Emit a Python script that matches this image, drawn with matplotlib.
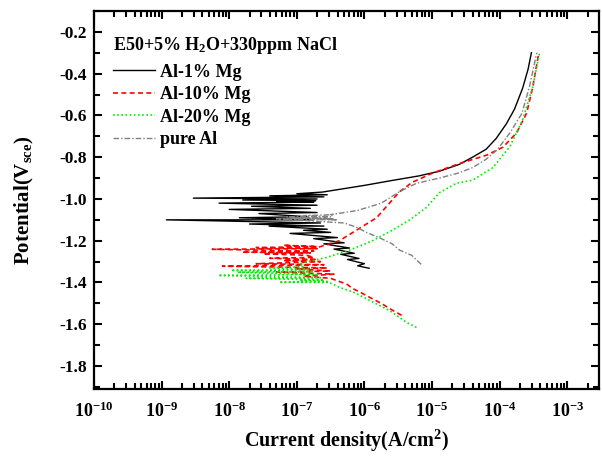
import numpy as np
import matplotlib
matplotlib.use("Agg")
import matplotlib.pyplot as plt
from matplotlib.ticker import FixedLocator, FixedFormatter, LogLocator, NullFormatter, MultipleLocator

plt.rcParams['font.family'] = ['Liberation Serif', 'DejaVu Serif']
plt.rcParams['font.weight'] = 'bold'
plt.rcParams['mathtext.fontset'] = 'custom'
plt.rcParams['mathtext.rm'] = 'Liberation Serif:bold'
plt.rcParams['mathtext.bf'] = 'Liberation Serif:bold'
plt.rcParams['mathtext.it'] = 'Liberation Serif:bold'

# log10 of current density (A/cm2) and potential (V vs SCE)
al1_logi = [-5.93, -6.10, -6.00, -6.25, -6.08, -6.35, -6.15, -6.45, -6.22, -6.60, -6.30,
            -6.75, -6.40, -7.10, -6.50, -6.90, -6.55, -7.41, -6.60, -7.70, -6.65, -8.93,
            -6.75, -7.85, -6.85, -7.56, -6.70, -8.00, -6.80, -7.67, -6.70, -8.15, -6.75,
            -7.30, -6.72, -7.80, -6.70, -8.53, -6.60, -7.40, -6.55, -7.00, -6.62, -6.00,
            -5.60, -5.20, -4.90, -4.60, -4.40, -4.20, -4.05, -3.90, -3.78, -3.66, -3.58,
            -3.53]
al1_E = [-1.332, -1.320, -1.310, -1.290, -1.285, -1.265, -1.260, -1.240, -1.235, -1.215, -1.210,
         -1.190, -1.185, -1.165, -1.160, -1.150, -1.145, -1.130, -1.130, -1.120, -1.115, -1.100,
         -1.100, -1.090, -1.085, -1.070, -1.065, -1.050, -1.045, -1.035, -1.030, -1.020, -1.015,
         -1.012, -1.008, -1.005, -1.000, -0.996, -0.990, -0.985, -0.980, -0.975, -0.967, -0.935,
         -0.912, -0.890, -0.868, -0.835, -0.800, -0.762, -0.710, -0.640, -0.570, -0.470, -0.380,
         -0.300]

al10_logi = [-5.45, -5.60, -5.75, -5.93, -6.07, -6.18, -6.25, -6.33, -6.50, -6.90, -6.45,
             -7.30, -6.50, -7.00, -6.55, -8.10, -6.60, -7.60, -6.65, -7.20, -6.70, -7.40,
             -6.75, -6.85, -7.50, -6.80, -7.81, -6.75, -8.25, -6.70, -7.60, -6.70, -7.20,
             -6.67, -6.37, -6.07, -5.82, -5.63, -5.48, -5.29, -4.99, -4.59, -4.19, -3.95,
             -3.75, -3.60, -3.51, -3.42]
al10_E = [-1.557, -1.530, -1.500, -1.470, -1.445, -1.428, -1.410, -1.400, -1.380, -1.370, -1.360,
          -1.350, -1.345, -1.335, -1.330, -1.322, -1.315, -1.310, -1.300, -1.295, -1.290, -1.284,
          -1.280, -1.270, -1.262, -1.258, -1.255, -1.250, -1.241, -1.238, -1.233, -1.228, -1.222,
          -1.230, -1.200, -1.140, -1.090, -1.020, -0.965, -0.920, -0.876, -0.830, -0.790, -0.752,
          -0.684, -0.589, -0.464, -0.300]

al20_logi = [-5.23, -5.38, -5.48, -5.63, -5.93, -6.12, -6.37, -6.52, -7.26, -6.55, -6.96,
             -6.60, -7.75, -6.65, -8.16, -6.70, -7.88, -6.75, -7.97, -6.80, -7.40, -6.90,
             -6.96, -6.56, -6.22, -5.88, -5.59, -5.33, -5.08, -4.89, -4.64, -4.40, -4.10,
             -3.85, -3.66, -3.51, -3.41]
al20_E = [-1.615, -1.591, -1.567, -1.534, -1.485, -1.452, -1.423, -1.400, -1.399, -1.395, -1.389,
          -1.387, -1.380, -1.377, -1.366, -1.362, -1.351, -1.348, -1.342, -1.338, -1.330, -1.325,
          -1.310, -1.280, -1.245, -1.200, -1.150, -1.100, -1.040, -0.970, -0.925, -0.910, -0.850,
          -0.750, -0.622, -0.464, -0.300]

pure_logi = [-5.16, -5.30, -5.48, -5.59, -5.75, -5.97, -6.12, -6.30, -7.30, -6.40, -7.00,
             -6.45, -7.15, -6.50, -6.90, -6.45, -6.50, -6.10, -5.75, -5.48, -5.23, -4.89,
             -4.60, -4.40, -4.20, -4.04, -3.85, -3.67, -3.56, -3.45]
pure_E = [-1.313, -1.270, -1.245, -1.215, -1.190, -1.160, -1.135, -1.115, -1.095, -1.100, -1.090,
          -1.095, -1.085, -1.085, -1.080, -1.075, -1.075, -1.055, -1.020, -0.965, -0.925, -0.900,
          -0.875, -0.850, -0.810, -0.766, -0.685, -0.590, -0.464, -0.300]

labels = ['Al-1% Mg', 'Al-10% Mg', 'Al-20% Mg', 'pure Al']
xticks = [1e-10, 1e-9, 1e-8, 1e-7, 1e-6, 1e-5, 1e-4, 1e-3]
xtick_labels = [r'$\mathbf{10^{-10}}$', r'$\mathbf{10^{-9}}$', r'$\mathbf{10^{-8}}$',
                r'$\mathbf{10^{-7}}$', r'$\mathbf{10^{-6}}$', r'$\mathbf{10^{-5}}$',
                r'$\mathbf{10^{-4}}$', r'$\mathbf{10^{-3}}$']
yticks = [-1.8, -1.6, -1.4, -1.2, -1.0, -0.8, -0.6, -0.4, -0.2]
ytick_labels = ['-1.8', '-1.6', '-1.4', '-1.2', '-1.0', '-0.8', '-0.6', '-0.4', '-0.2']

fig = plt.figure(figsize=(6.02, 4.58), dpi=100)
ax = fig.add_axes([94/602, 69/458, 505/602, 378/458])

l1, = ax.plot(10**np.array(al1_logi), al1_E, color='black', lw=1.0, ls='-')
l2, = ax.plot(10**np.array(al10_logi), al10_E, color='#ff0000', lw=1.2, ls=(0, (3, 2)))
l3, = ax.plot(10**np.array(al20_logi), al20_E, color='#00ee00', lw=1.2, ls=(0, (1, 1.5)))
l4, = ax.plot(10**np.array(pure_logi), pure_E, color='#808080', lw=1.0, ls=(0, (4, 1.5, 1, 1.5)))

ax.set_xscale('log')
ax.set_xlim(1e-10, 10**-2.53)
ax.set_ylim(-1.91, -0.10)

ax.xaxis.set_major_locator(FixedLocator(xticks))
ax.xaxis.set_major_formatter(FixedFormatter(xtick_labels))
ax.xaxis.set_minor_locator(LogLocator(base=10, subs=np.arange(2, 10), numticks=20))
ax.xaxis.set_minor_formatter(NullFormatter())
ax.yaxis.set_major_locator(FixedLocator(yticks))
ax.yaxis.set_major_formatter(FixedFormatter(ytick_labels))
ax.yaxis.set_minor_locator(MultipleLocator(0.1))

ax.tick_params(which='both', direction='in', top=True, right=True, width=1.5)
ax.tick_params(which='major', length=6)
ax.tick_params(axis='y', which='major', labelsize=12.5, pad=5)
ax.tick_params(axis='x', which='major', labelsize=13, pad=9)
ax.tick_params(which='minor', length=4)
for s in ax.spines.values():
    s.set_linewidth(1.6)

ax.set_xlabel(r'Current density(A/cm$\mathbf{^2}$)', fontsize=14.5, fontweight='bold')
ax.xaxis.set_label_coords(0.5, -0.102)
ax.set_ylabel(r'Potential(V$_{\mathbf{sce}}$)', fontsize=15, fontweight='bold')
ax.yaxis.set_label_coords(-0.115, 0.5)

ax.text(0.038, 0.91, r'E50+5% H$_\mathbf{2}$O+330ppm NaCl', transform=ax.transAxes,
        fontsize=13, fontweight='bold', va='center', ha='left')
ax.legend([l1, l2, l3, l4], labels, loc='upper left', bbox_to_anchor=(0.013, 0.894),
          frameon=False, handlelength=2.3, handletextpad=0.3,
          labelspacing=0.3, borderpad=0.2, prop={'weight': 'bold', 'size': 13})

fig.savefig('out.png', dpi=100)
